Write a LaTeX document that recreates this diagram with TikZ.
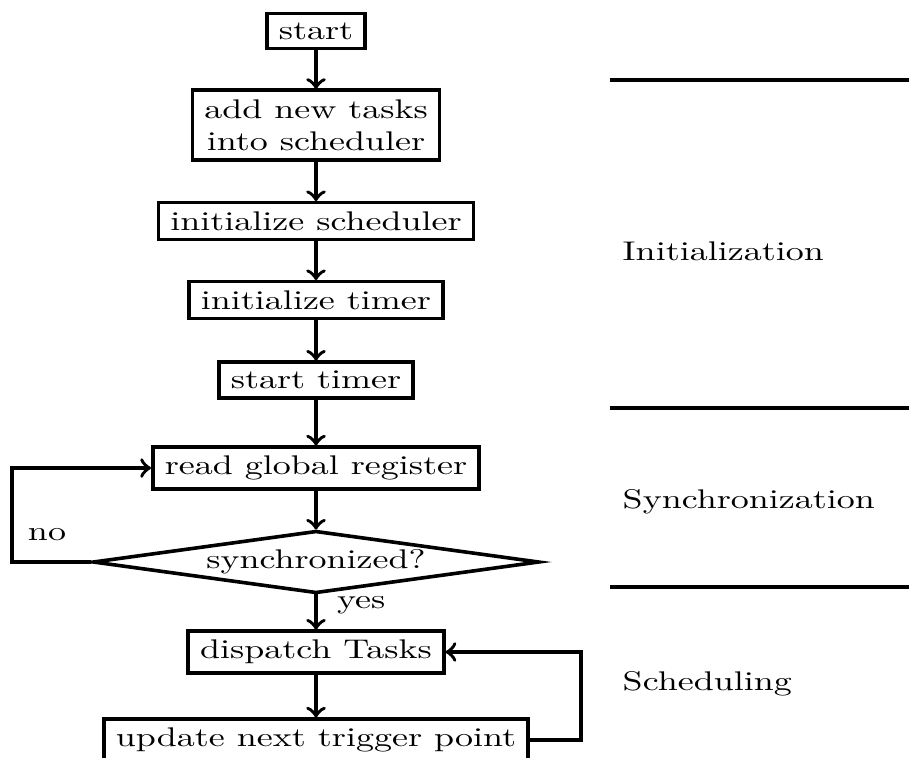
\documentclass[tikz,border=0pt]{standalone}
\usetikzlibrary{shapes.geometric}

\begin{document}
% Layout grid: one unit = 1/3.6 pt, y runs downwards.
% Every node is set at 3:4 vertical scale, so the chart is drawn squat.
\begin{tikzpicture}[
    x=0.27778pt, y=-0.27778pt,
    every node/.style={yscale=0.75},
    stroke/.style={line width=1pt},
    stepbox/.style={draw, stroke, rectangle, align=center},
    decision/.style={draw, stroke, diamond, aspect=5.4, inner sep=1pt,
                     minimum width=124pt, minimum height=23pt},
    flow/.style={->, stroke},
    phase/.style={anchor=west},
    rule/.style={stroke}
  ]
  \useasboundingbox (0,0) rectangle (909,757);

  % main column
  \node[stepbox] (start)   at (316,31)  {start};
  \node[stepbox] (addtask) at (316,125) {add new tasks\\into scheduler};
  \node[stepbox] (isched)  at (316,221) {initialize scheduler};
  \node[stepbox] (itimer)  at (316,300) {initialize timer};
  \node[stepbox] (stimer)  at (316,380) {start timer};
  \node[stepbox] (readreg) at (316,468) {read global register};
  \node[decision] (sync)   at (316,562) {synchronized?};
  \node[stepbox] (disp)    at (316,652) {dispatch Tasks};
  \node[stepbox] (update)  at (316,740) {update next trigger point};

  \draw[flow] (start) -- (addtask);
  \draw[flow] (addtask) -- (isched);
  \draw[flow] (isched) -- (itimer);
  \draw[flow] (itimer) -- (stimer);
  \draw[flow] (stimer) -- (readreg);
  \draw[flow] (readreg) -- (sync);
  \draw[flow] (sync) -- node[pos=0.3, right=2pt] (yes) {yes} (disp);
  \draw[flow] (disp) -- (update);

  % retry loop while not synchronized
  \coordinate (leftrail) at (12,0);
  \node (no) at (47,535) {no};
  \draw[flow] (sync.west) -- (sync.west -| leftrail) |- (readreg.west);

  % scheduling loop
  \coordinate (rightrail) at (581,0);
  \draw[flow] (update.east) -- (update.east -| rightrail) |- (disp.east);

  % phase separators and names
  \draw[rule] (610,80)  -- (909,80);
  \draw[rule] (610,408) -- (909,408);
  \draw[rule] (610,587) -- (909,587);
  \node[phase] (pinit)  at (610,251) {Initialization};
  \node[phase] (psync)  at (610,502) {Synchronization};
  \node[phase] (psched) at (610,684) {Scheduling};
\end{tikzpicture}
\end{document}
